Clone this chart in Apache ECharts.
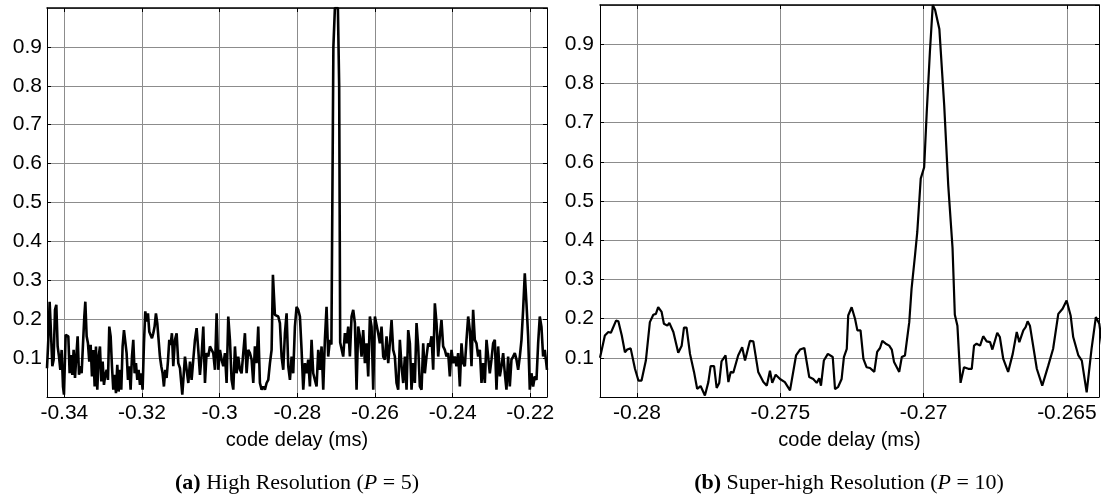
<!DOCTYPE html>
<html><head><meta charset="utf-8">
<script src="https://cdn.jsdelivr.net/npm/echarts@6/dist/echarts.min.js"></script>
<style>html,body{margin:0;padding:0;background:#fff}#c{width:1102px;height:501px}</style>
</head><body><div id="c"></div>
<script>
// ---- Data ----
const leftX = [
-0.34446,-0.34412,-0.34378,-0.34343,-0.34309,-0.34275,-0.34240,-0.34206,-0.34172,-0.34137,-0.34103,-0.34069,-0.34034,-0.34009,
-0.33966,-0.33931,-0.33897,-0.33863,-0.33828,-0.33794,-0.33760,-0.33725,-0.33691,-0.33657,-0.33622,-0.33588,-0.33554,-0.33520,
-0.33485,-0.33459,-0.33425,-0.33391,-0.33357,-0.33322,-0.33288,-0.33254,-0.33219,-0.33185,-0.33151,-0.33116,-0.33082,-0.33048,
-0.33013,-0.32979,-0.32945,-0.32910,-0.32876,-0.32842,-0.32807,-0.32773,-0.32739,-0.32704,-0.32670,-0.32636,-0.32601,-0.32567,
-0.32533,-0.32499,-0.32464,-0.32430,-0.32396,-0.32361,-0.32327,-0.32293,-0.32258,-0.32224,-0.32190,-0.32155,-0.32121,-0.32087,
-0.32052,-0.32018,-0.31984,-0.31949,-0.31915,-0.31881,-0.31846,-0.31812,-0.31778,-0.31743,-0.31709,-0.31675,-0.31641,-0.31606,
-0.31572,-0.31538,-0.31503,-0.31469,-0.31435,-0.31400,-0.31366,-0.31332,-0.31297,-0.31263,-0.31229,
-0.31194,-0.31151,-0.31108,-0.31065,-0.31022,-0.30962,-0.30893,-0.30850,-0.30807,-0.30764,-0.30722,-0.30679,-0.30636,-0.30593,
-0.30550,-0.30507,-0.30464,-0.30421,-0.30378,-0.30336,-0.30293,-0.30250,-0.30207,-0.30164,-0.30121,-0.30078,-0.30035,-0.29992,
-0.29949,-0.29907,-0.29864,-0.29821,-0.29778,-0.29735,-0.29692,-0.29649,-0.29606,-0.29563,-0.29521,-0.29478,-0.29435,-0.29392,
-0.29349,-0.29306,-0.29263,-0.29220,-0.29177,-0.29134,-0.29092,-0.29049,-0.29006,-0.28963,-0.28920,-0.28877,-0.28834,-0.28791,
-0.28748,-0.28705,-0.28662,-0.28628,-0.28577,-0.28534,-0.28491,-0.28448,-0.28405,-0.28362,-0.28319,-0.28276,-0.28233,-0.28190,
-0.28147,-0.28105,-0.28062,-0.28019,
-0.27976,-0.27933,-0.27890,-0.27847,-0.27804,-0.27761,-0.27719,-0.27676,-0.27633,-0.27590,-0.27547,-0.27504,-0.27461,-0.27418,
-0.27375,-0.27332,-0.27290,-0.27247,-0.27204,-0.27161,-0.27122,
-0.27097,-0.27071,-0.27032,-0.26955,-0.26922,-0.26896,
-0.26861,-0.26818,-0.26775,-0.26732,-0.26689,-0.26646,-0.26603,-0.26560,-0.26517,-0.26474,-0.26432,-0.26389,-0.26346,-0.26303,
-0.26260,-0.26217,-0.26174,-0.26131,-0.26088,-0.26045,-0.26002,-0.25960,-0.25917,-0.25874,-0.25831,-0.25788,-0.25745,-0.25702,
-0.25659,-0.25616,-0.25573,-0.25531,-0.25488,-0.25445,-0.25402,-0.25359,-0.25316,-0.25273,-0.25230,-0.25187,-0.25144,-0.25101,
-0.25059,-0.25016,-0.24973,-0.24930,-0.24887,-0.24844,
-0.24801,-0.24758,-0.24716,-0.24673,-0.24630,-0.24587,-0.24544,-0.24501,-0.24458,-0.24415,-0.24372,-0.24330,-0.24287,-0.24244,
-0.24201,-0.24158,-0.24115,-0.24072,-0.24029,-0.23986,-0.23943,-0.23901,-0.23858,-0.23815,-0.23772,-0.23729,-0.23686,-0.23643,
-0.23600,-0.23557,-0.23514,-0.23472,-0.23429,-0.23386,-0.23343,-0.23300,-0.23257,-0.23214,-0.23171,-0.23128,-0.23085,-0.23043,
-0.23000,-0.22957,-0.22914,-0.22871,-0.22828,-0.22785,-0.22742,-0.22699,-0.22656,-0.22614,-0.22571,-0.22528,-0.22485,-0.22442,
-0.22399,-0.22356,-0.22313,-0.22270,-0.22227,-0.22185,-0.22142,-0.22099,-0.22056,-0.22013,-0.21970,-0.21927,-0.21884,-0.21841,
-0.21798,-0.21756,-0.21713,-0.21670,-0.21627,-0.21570
];
const leftY = [
0.074,0.147,0.245,0.164,0.079,0.096,0.224,0.237,0.130,0.104,0.070,0.121,0.027,0.006,
0.160,0.164,0.156,0.061,0.108,0.057,0.121,0.049,0.104,0.156,0.057,0.079,0.061,0.134,
0.207,0.245,0.156,0.138,0.091,0.134,0.053,0.121,0.027,0.130,0.019,0.104,0.130,0.040,
0.091,0.031,0.057,0.070,0.044,0.181,0.156,0.079,0.019,0.057,0.010,0.083,0.014,0.070,
0.019,0.130,0.172,0.177,0.113,0.044,0.079,0.019,0.104,0.147,0.061,0.087,0.044,0.070,
0.031,0.061,0.019,0.138,0.220,0.194,0.215,0.168,0.172,0.151,0.164,0.181,0.215,0.190,
0.147,0.104,0.079,0.061,0.027,0.070,0.049,0.091,0.147,0.134,0.164,
0.079,0.147,0.164,0.087,0.074,0.006,0.104,0.070,0.036,0.091,0.044,0.096,0.147,0.177,
0.121,0.057,0.108,0.181,0.036,0.113,0.104,0.130,0.126,0.113,0.070,0.215,0.070,0.121,
0.096,0.079,0.113,0.036,0.207,0.147,0.044,0.019,0.130,0.061,0.104,0.070,0.061,0.113,
0.164,0.061,0.121,0.113,0.096,0.036,0.130,0.087,0.181,0.036,0.019,0.027,0.019,0.036,
0.044,0.087,0.121,0.314,0.211,0.207,0.207,0.190,0.104,0.070,0.164,0.215,0.079,0.044,
0.104,0.061,0.181,0.232,
0.224,0.207,0.121,0.019,0.087,0.061,0.096,0.027,0.147,0.061,0.044,0.027,0.121,0.070,
0.130,0.019,0.147,0.232,0.104,0.147,0.135,
0.140,0.900,1.000,1.000,0.800,0.140,
0.138,0.104,0.164,0.138,0.181,0.104,0.207,0.224,0.190,0.019,0.181,0.156,0.104,0.172,
0.087,0.138,0.053,0.207,0.181,0.019,0.207,0.207,0.164,0.138,0.181,0.104,0.096,0.156,
0.087,0.138,0.198,0.121,0.104,0.036,0.019,0.147,0.079,0.036,0.104,0.019,0.172,0.138,
0.019,0.087,0.036,0.190,0.130,0.027,
0.019,0.138,0.061,0.104,0.138,0.130,0.156,0.070,0.241,0.190,0.104,0.156,0.198,0.130,
0.121,0.104,0.113,0.053,0.121,0.087,0.104,0.079,0.113,0.027,0.138,0.087,0.079,0.147,
0.207,0.172,0.079,0.224,0.147,0.138,0.104,0.121,0.036,0.087,0.036,0.147,0.104,0.061,
0.096,0.138,0.147,0.019,0.130,0.053,0.079,0.113,0.061,0.019,0.104,0.027,0.096,0.104,
0.113,0.096,0.070,0.104,0.147,0.224,0.318,0.241,0.156,0.019,0.061,0.027,0.053,0.044,
0.138,0.207,0.181,0.104,0.121,0.070
];
const rightX = [
-0.28129,-0.28112,-0.28100,-0.28091,-0.28073,-0.28065,-0.28053,-0.28042,-0.28034,-0.28022,-0.28007,-0.27995,-0.27984,-0.27969,
-0.27955,-0.27943,-0.27934,-0.27926,-0.27914,-0.27906,-0.27894,-0.27887,-0.27873,-0.27856,-0.27844,-0.27836,-0.27827,-0.27815,
-0.27801,-0.27790,-0.27778,-0.27763,-0.27751,-0.27743,-0.27731,-0.27722,-0.27713,-0.27705,-0.27691,-0.27681,-0.27673,-0.27664,
-0.27647,-0.27633,-0.27623,-0.27606,-0.27594,-0.27577,-0.27559,-0.27547,-0.27536,-0.27528,-0.27516,-0.27501,-0.27484,-0.27466,
-0.27445,-0.27431,-0.27416,-0.27399,-0.27385,-0.27373,-0.27364,-0.27358,-0.27348,-0.27334,-0.27317,-0.27309,-0.27298,-0.27286,
-0.27278,-0.27268,-0.27263,-0.27251,-0.27239,-0.27231,-0.27220,-0.27210,-0.27199,-0.27187,-0.27172,-0.27162,-0.27152,-0.27144,
-0.27132,-0.27120,-0.27111,-0.27103,-0.27085,-0.27076,-0.27065,-0.27050,-0.27042,-0.27030,-0.27022,-0.27010,-0.26998,-0.26989,
-0.26978,-0.26968,-0.26960,-0.26945,-0.26928,-0.26914,-0.26899,-0.26891,-0.26882,-0.26871,-0.26859,-0.26844,-0.26832,-0.26824,
-0.26815,-0.26803,-0.26792,-0.26780,-0.26768,-0.26760,-0.26743,-0.26734,-0.26722,-0.26705,-0.26689,-0.26675,-0.26666,-0.26652,
-0.26644,-0.26637,-0.26629,-0.26605,-0.26586,-0.26565,-0.26548,-0.26530,-0.26515,-0.26501,-0.26487,-0.26478,-0.26460,-0.26448,
-0.26431,-0.26414,-0.26399,-0.26387,-0.26375
];
const rightY = [
0.100,0.157,0.166,0.164,0.195,0.193,0.157,0.114,0.121,0.124,0.072,0.042,0.042,0.093,
0.191,0.210,0.212,0.229,0.217,0.187,0.182,0.189,0.166,0.113,0.131,0.177,0.177,0.110,
0.064,0.021,0.028,0.004,0.038,0.079,0.079,0.023,0.036,0.091,0.106,0.038,0.064,0.062,
0.106,0.127,0.093,0.143,0.142,0.064,0.038,0.029,0.067,0.036,0.057,0.046,0.038,0.017,
0.106,0.121,0.125,0.051,0.046,0.036,0.048,0.029,0.093,0.110,0.102,0.020,0.026,0.046,
0.102,0.123,0.208,0.229,0.199,0.170,0.170,0.097,0.076,0.074,0.064,0.115,0.125,0.143,
0.136,0.131,0.121,0.089,0.064,0.102,0.106,0.191,0.276,0.361,0.421,0.557,0.586,0.727,
0.880,1.000,0.988,0.939,0.743,0.540,0.380,0.210,0.182,0.036,0.076,0.072,0.072,0.131,
0.136,0.131,0.155,0.142,0.140,0.121,0.164,0.153,0.097,0.064,0.110,0.166,0.140,0.170,
0.178,0.193,0.182,0.072,0.029,0.080,0.123,0.212,0.225,0.246,0.208,0.153,0.106,0.093,
0.012,0.123,0.204,0.187,0.120
];
const leftTicks = [-0.34, -0.32, -0.3, -0.28, -0.26, -0.24, -0.22];
const rightTicks = [-0.28, -0.275, -0.27, -0.265];
const leftRange = [-0.34446, -0.2157];
const rightRange = [-0.28129, -0.26388];
const xName = 'code delay (ms)';
const captions = ['{b|(a)} High Resolution ({i|P} = 5)', '{b|(b)} Super-high Resolution ({i|P} = 10)'];

// ---- Chart ----
const FONT = 'Liberation Sans';
const GRID_COLOR = '#8c8c8c';
function zip(xs, ys) { return xs.map((x, i) => [x, ys[i]]); }

function xAxes(g, range, ticks) {
  return [{
    type: 'value', gridIndex: g, position: 'bottom', min: range[0], max: range[1],
    axisLine: { show: true, onZero: false, lineStyle: { color: '#000', width: 1 } },
    axisTick: { show: true, inside: true, length: 4, customValues: ticks, lineStyle: { color: '#000' } },
    axisLabel: { show: true, customValues: ticks, margin: 6, fontSize: 21, color: '#000', fontFamily: FONT,
                 formatter: v => String(v) },
    splitLine: { show: true, lineStyle: { color: GRID_COLOR, width: 1 } },
    name: xName, nameLocation: 'middle', nameGap: 33,
    nameTextStyle: { fontSize: 20, color: '#000', fontFamily: FONT }
  }, {
    type: 'value', gridIndex: g, position: 'top', min: range[0], max: range[1],
    axisLine: { show: true, onZero: false, lineStyle: { color: '#000', width: 1.5 } },
    axisTick: { show: true, inside: true, length: 4, customValues: ticks, lineStyle: { color: '#000' } },
    axisLabel: { show: false }, splitLine: { show: false }
  }];
}
function yAxes(g, margin) {
  const base = {
    type: 'value', gridIndex: g, min: 0, max: 1, interval: 0.1
  };
  return [Object.assign({}, base, {
    position: 'left',
    axisLine: { show: true, onZero: false, lineStyle: { color: '#000', width: 1 } },
    axisTick: { show: true, inside: true, length: 4, lineStyle: { color: '#000' } },
    axisLabel: { show: true, margin: margin, fontSize: 21, color: '#000', fontFamily: FONT,
                 showMinLabel: false, showMaxLabel: false },
    splitLine: { show: true, lineStyle: { color: GRID_COLOR, width: 1 } }
  }), Object.assign({}, base, {
    position: 'right',
    axisLine: { show: true, onZero: false, lineStyle: { color: '#000', width: 1 } },
    axisTick: { show: true, inside: true, length: 4, lineStyle: { color: '#000' } },
    axisLabel: { show: false }, splitLine: { show: false }
  })];
}

const CAP_SIZE = 22;
const capRich = {
  b: { fontFamily: 'Liberation Serif', fontSize: CAP_SIZE, fontWeight: 'bold', color: '#000' },
  i: { fontFamily: 'Liberation Serif', fontSize: CAP_SIZE, fontStyle: 'italic', color: '#000' }
};
const capStyle = { fontFamily: 'Liberation Serif', fontSize: CAP_SIZE, fontWeight: 'normal', color: '#000', rich: capRich };

const chart = echarts.init(document.getElementById('c'), null, { renderer: 'canvas' });
chart.setOption({
  animation: false,
  backgroundColor: '#fff',
  grid: [
    { left: 47, top: 8, width: 500, height: 389, containLabel: false },
    { left: 600, top: 5, width: 499, height: 392, containLabel: false }
  ],
  title: [
    { text: captions[0], left: 297, top: 472, textAlign: 'center', padding: 0, textStyle: capStyle },
    { text: captions[1], left: 849, top: 472, textAlign: 'center', padding: 0, textStyle: capStyle }
  ],
  xAxis: [].concat(xAxes(0, leftRange, leftTicks), xAxes(1, rightRange, rightTicks)),
  yAxis: [].concat(yAxes(0, 5), yAxes(1, 6)),
  series: [
    { type: 'line', xAxisIndex: 0, yAxisIndex: 0, data: zip(leftX, leftY), symbol: 'none',
      lineStyle: { color: '#000', width: 2.6 }, clip: true },
    { type: 'line', xAxisIndex: 2, yAxisIndex: 2, data: zip(rightX, rightY), symbol: 'none',
      lineStyle: { color: '#000', width: 2.2 }, clip: true }
  ]
});
</script>
</body></html>
